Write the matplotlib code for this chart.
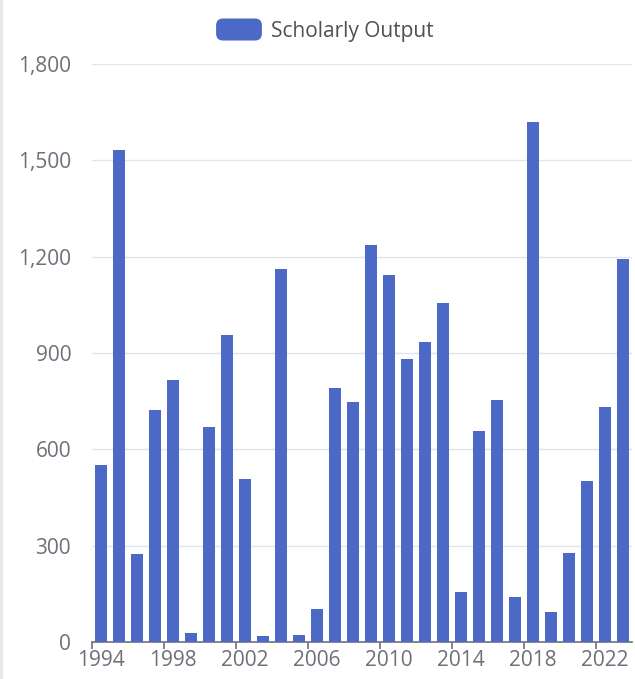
import matplotlib
matplotlib.use('Agg')
import matplotlib.pyplot as plt
import matplotlib.patches as mpatches
from matplotlib.legend_handler import HandlerPatch
from matplotlib.ticker import FuncFormatter, FixedLocator

plt.rcParams['font.family'] = ['Open Sans', 'DejaVu Sans']

years = list(range(1994, 2024))
output = [550, 1532, 275, 722, 815, 28, 668, 955, 508, 20,
          1163, 23, 103, 792, 748, 1236, 1143, 881, 933, 1057,
          157, 657, 754, 139, 1620, 94, 278, 501, 733, 1192]
tick_years = list(range(1994, 2024, 4))
series_name = 'Scholarly Output'

bar_color = '#4d69c6'
label_color = '#6e7079'


class RoundHandler(HandlerPatch):
    def create_artists(self, legend, orig_handle, xdescent, ydescent,
                       width, height, fontsize, trans):
        p = mpatches.FancyBboxPatch((-xdescent, -ydescent), width, height,
                                    boxstyle='round,pad=0,rounding_size=5',
                                    facecolor=bar_color, edgecolor='none',
                                    transform=trans)
        return [p]


fig = plt.figure(figsize=(6.35, 6.79), dpi=100)
ax = fig.add_axes([92/635, 1-642/679, 540/635, 578/679])

ax.bar(years, output, width=0.66, color=bar_color, zorder=3)

ax.set_xlim(1993.5, 2023.5)
ax.set_ylim(0, 1800)
ax.set_yticks(range(0, 1801, 300))
ax.yaxis.set_major_formatter(FuncFormatter(lambda v, p: f'{int(v):,}'))
ax.grid(axis='y', color='#e0e6f1', linewidth=1, zorder=0)

ax.set_xticks(tick_years)
ax.set_xticklabels([str(y) for y in tick_years])
ax.xaxis.set_minor_locator(FixedLocator([y - 0.5 for y in tick_years]))
ax.tick_params(axis='x', which='major', length=0, pad=6,
               labelsize=15, labelcolor=label_color)
ax.tick_params(axis='x', which='minor', length=5, width=1.2, color=label_color)
ax.tick_params(axis='y', length=0, pad=15, labelsize=15, labelcolor=label_color)

for s in ['left', 'right', 'top']:
    ax.spines[s].set_visible(False)
ax.spines['bottom'].set_color(label_color)
ax.spines['bottom'].set_linewidth(1.2)

handle = mpatches.Patch(color=bar_color, label=series_name)
fig.legend(handles=[handle], loc='center', bbox_to_anchor=(325/635, 1-30/679),
           frameon=False, fontsize=15, labelcolor='#505050',
           handler_map={mpatches.Patch: RoundHandler()},
           handlelength=2.2, handleheight=1.25, handletextpad=0.45)

# thin grey border at left edge
fig.add_artist(plt.Line2D([0.002, 0.002], [0, 1], color='#e8e8e8', linewidth=3))

fig.savefig('out.png', dpi=100)
plt.close(fig)
